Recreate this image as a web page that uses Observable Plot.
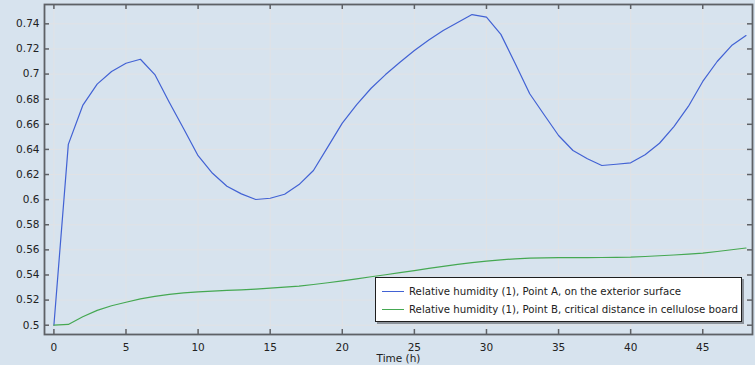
<!DOCTYPE html>
<html>
<head>
<meta charset="utf-8">
<script src="https://cdn.jsdelivr.net/npm/d3@7"></script>
<script src="https://cdn.jsdelivr.net/npm/@observablehq/plot@0.6"></script>
<style>
  html, body { margin: 0; padding: 0; background: #d7e3ee; }
  #chart { position: relative; width: 755px; height: 365px; font-family: "DejaVu Sans", sans-serif; }
  #chart svg { display: block; }
  .legend {
    position: absolute; left: 375px; top: 277px; width: 367px; height: 45px;
    box-sizing: border-box; background: #fff; border: 1px solid #1e1e1e;
    box-shadow: 2px 2px 0 #8c929a; font-size: 10.2px; color: #222;
  }
  .legend .row { position: absolute; left: 0; height: 14px; display: flex; align-items: center; white-space: nowrap; }
  .legend .sw { width: 22px; height: 0; border-top: 1.2px solid; margin-left: 6px; margin-right: 5px; }
</style>
</head>
<body>
<div id="chart"></div>
<script>
// Time in hours (hourly samples)
const hours = [0, 1, 2, 3, 4, 5, 6, 7, 8, 9, 10, 11, 12, 13, 14, 15, 16, 17, 18, 19, 20,
  21, 22, 23, 24, 25, 26, 27, 28, 29, 30, 31, 32, 33, 34, 35, 36, 37, 38, 39, 40,
  41, 42, 43, 44, 45, 46, 47, 48];

// Relative humidity at point A (exterior surface)
const rhPointA = [0.5, 0.644, 0.675, 0.692, 0.702, 0.7086, 0.7118, 0.6996, 0.6776, 0.6564, 0.635,
  0.621, 0.6107, 0.6046, 0.6001, 0.6011, 0.6043, 0.612, 0.6232, 0.642, 0.6609,
  0.6757, 0.6887, 0.6996, 0.7094, 0.7187, 0.7272, 0.7347, 0.741, 0.7474, 0.7453,
  0.7316, 0.7082, 0.6843, 0.6676, 0.6511, 0.6391, 0.6325, 0.6272, 0.6282, 0.6293,
  0.6357, 0.6449, 0.6582, 0.6742, 0.6941, 0.71, 0.7227, 0.7307];

// Relative humidity at point B (critical distance in cellulose board)
const rhPointB = [0.5, 0.5006, 0.5067, 0.5118, 0.5155, 0.5183, 0.521, 0.523, 0.5246, 0.5257, 0.5265,
  0.5271, 0.5277, 0.5282, 0.5288, 0.5295, 0.5303, 0.5312, 0.5324, 0.5338, 0.5353,
  0.5369, 0.5386, 0.5402, 0.5418, 0.5434, 0.5452, 0.5469, 0.5484, 0.5498, 0.551,
  0.552, 0.5529, 0.5535, 0.5537, 0.5538, 0.5538, 0.5538, 0.5539, 0.554, 0.5542,
  0.5547, 0.5553, 0.5559, 0.5566, 0.5574, 0.5587, 0.5601, 0.5615];

const seriesNames = [
  "Relative humidity (1), Point A, on the exterior surface",
  "Relative humidity (1), Point B, critical distance in cellulose board"
];
const seriesColors = ["#4262d4", "#45a852"];

const xTicks = [0, 5, 10, 15, 20, 25, 30, 35, 40, 45];
const yTicks = [0.5, 0.52, 0.54, 0.56, 0.58, 0.6, 0.62, 0.64, 0.66, 0.68, 0.7, 0.72, 0.74];
const xLabel = "Time (h)";

const rows = [
  ...hours.map((t, i) => ({t, v: rhPointA[i], series: seriesNames[0]})),
  ...hours.map((t, i) => ({t, v: rhPointB[i], series: seriesNames[1]}))
];

const W = 755, H = 365;
const mL = 44, mR = 3, mT = 4, mB = 31;
const innerW = W - mL - mR, innerH = H - mT - mB;
const tickLen = 5;
const gridColor = "#e1e2e5";
const axisColor = "#5e6166";
const fmt = d3.format("~g");

const chart = Plot.plot({
  width: W,
  height: H,
  marginLeft: mL,
  marginRight: mR,
  marginTop: mT,
  marginBottom: mB,
  style: {background: "transparent", fontFamily: "DejaVu Sans, sans-serif", fontSize: "10.5px", color: "#222"},
  x: {domain: [-0.652, 48.45]},
  y: {domain: [0.4926, 0.7554]},
  color: {domain: seriesNames, range: seriesColors},
  marks: [
    Plot.ruleX(xTicks, {x: d => d, stroke: gridColor, strokeWidth: 1}),
    Plot.ruleY(yTicks, {y: d => d, stroke: gridColor, strokeWidth: 1}),
    Plot.line(rows, {x: "t", y: "v", z: "series", stroke: "series", strokeWidth: 1.2}),
    // inward ticks on all four sides
    Plot.tickY(yTicks, {y: d => d, insetRight: innerW - tickLen, stroke: axisColor, strokeWidth: 1.5}),
    Plot.tickY(yTicks, {y: d => d, insetLeft: innerW - tickLen, stroke: axisColor, strokeWidth: 1.5}),
    Plot.tickX(xTicks, {x: d => d, insetTop: innerH - tickLen, stroke: axisColor, strokeWidth: 1.5}),
    Plot.tickX(xTicks, {x: d => d, insetBottom: innerH - tickLen, stroke: axisColor, strokeWidth: 1.5}),
    Plot.frame({stroke: axisColor, strokeWidth: 1.8}),
    Plot.axisX(xTicks, {tickSize: 0, tickPadding: 9, label: null, tickFormat: fmt, fill: "#222"}),
    Plot.axisY(yTicks, {tickSize: 0, tickPadding: 5, label: null, tickFormat: fmt, fill: "#222"}),
    Plot.text([xLabel], {text: d => d, frameAnchor: "bottom", lineAnchor: "top", dy: 20, fill: "#222"})
  ]
});

const root = document.getElementById("chart");
root.appendChild(chart);

// Legend box inside the plot area
const legend = document.createElement("div");
legend.className = "legend";
seriesNames.forEach((name, i) => {
  const row = document.createElement("div");
  row.className = "row";
  row.style.top = (6 + i * 18.6) + "px";
  const sw = document.createElement("span");
  sw.className = "sw";
  sw.style.borderColor = seriesColors[i];
  const label = document.createElement("span");
  label.textContent = name;
  row.appendChild(sw);
  row.appendChild(label);
  legend.appendChild(row);
});
root.appendChild(legend);
</script>
</body>
</html>
